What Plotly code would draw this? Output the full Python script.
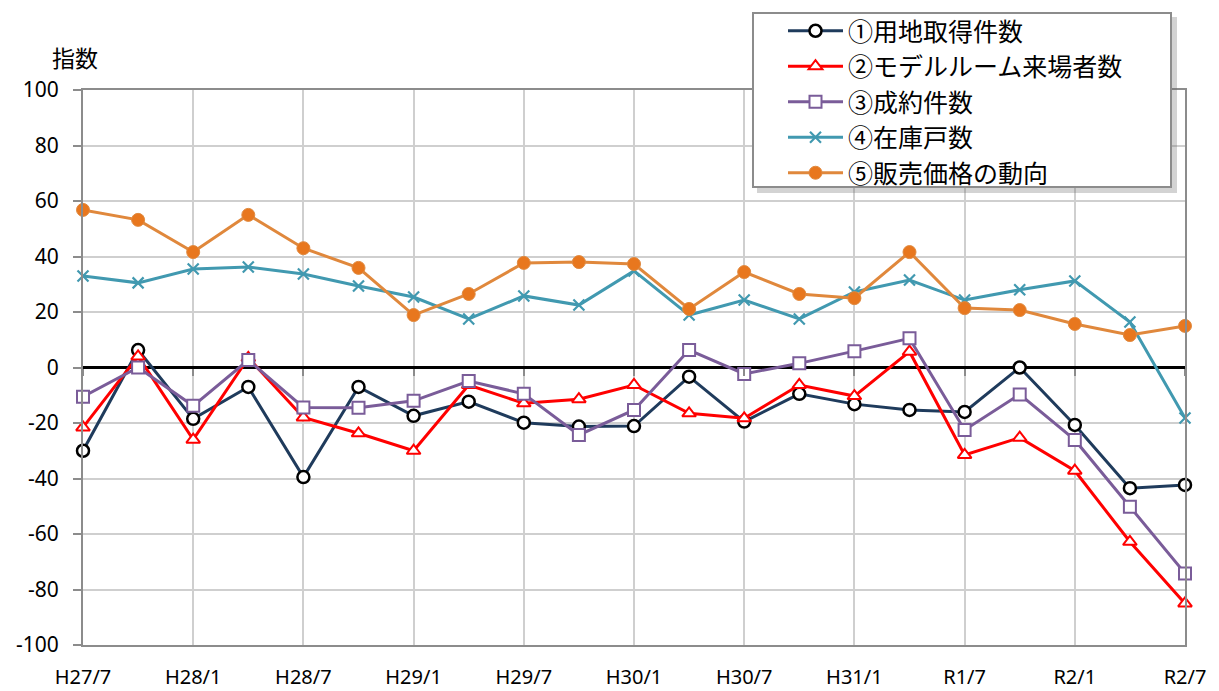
import plotly.graph_objects as go

categories = ["H27/7", "H27/10", "H28/1", "H28/4", "H28/7", "H28/10", "H29/1", "H29/4",
              "H29/7", "H29/10", "H30/1", "H30/4", "H30/7", "H30/10", "H31/1", "H31/4",
              "R1/7", "R1/10", "R2/1", "R2/4", "R2/7"]
tick_labels = ["H27/7", "H28/1", "H28/7", "H29/1", "H29/7", "H30/1", "H30/7", "H31/1",
               "R1/7", "R2/1", "R2/7"]
y_tick_vals = [-100, -80, -60, -40, -20, 0, 20, 40, 60, 80, 100]
y_tick_text = ["-100", "-80", "-60", "-40", "-20", "0", "20", "40", "60", "80", "100"]

s1_land = [-30, 6.3, -18.5, -7, -39.5, -7, -17.4, -12.3, -19.9, -21.3, -21.1, -3.3,
           -19.5, -9.5, -13.2, -15.3, -16, 0, -20.7, -43.5, -42.3]
s2_model = [-21.6, 4, -26, 3.5, -18, -23.7, -30, -6.3, -12.9, -11.4, -6.3, -16.5,
            -18.3, -6.3, -10.3, 5.7, -31.5, -25.3, -37.2, -62.8, -85]
s3_contract = [-10.5, 0, -13.8, 2.7, -14.4, -14.5, -12, -4.9, -9.5, -24.3, -15.3, 6.3,
               -2.3, 1.5, 5.9, 10.5, -22.5, -9.7, -26.1, -50.2, -74.2]
s4_stock = [33, 30.5, 35.5, 36.2, 33.7, 29.4, 25.4, 17.5, 25.8, 22.5, 34.8, 18.9,
            24.3, 17.5, 27.2, 31.5, 24.3, 28, 31.2, 16.4, -18.2]
s5_price = [56.8, 53.2, 41.6, 55, 43, 35.9, 18.9, 26.5, 37.7, 38, 37.3, 21.1,
            34.4, 26.5, 25, 41.6, 21.4, 20.7, 15.7, 11.7, 15]

names = ["①用地取得件数", "②モデルルーム来場者数", "③成約件数", "④在庫戸数", "⑤販売価格の動向"]

fig = go.Figure()
fig.add_trace(go.Scatter(x=categories, y=s1_land, name=names[0], mode="lines+markers",
                         line=dict(color="#1F3B5C", width=3),
                         marker=dict(symbol="circle", size=12, color="white",
                                     line=dict(color="black", width=2.5)),
                         cliponaxis=False, legendgroup="g1"))
fig.add_trace(go.Scatter(x=categories, y=s2_model, name=names[1], mode="lines+markers",
                         line=dict(color="#FF0000", width=3),
                         marker=dict(symbol="triangle-up", size=12, color="white",
                                     line=dict(color="#FF0000", width=2)),
                         cliponaxis=False, legendgroup="g2"))
fig.add_trace(go.Scatter(x=categories, y=s3_contract, name=names[2], mode="lines+markers",
                         line=dict(color="#7A5C99", width=3),
                         marker=dict(symbol="square", size=12, color="white",
                                     line=dict(color="#7A5C99", width=2)),
                         cliponaxis=False, legendgroup="g3"))
fig.add_trace(go.Scatter(x=categories, y=s4_stock, name=names[3], mode="lines+markers",
                         line=dict(color="#4199B0", width=3),
                         marker=dict(symbol="x-thin", size=11, color="#4199B0",
                                     line=dict(color="#4199B0", width=2.2)),
                         cliponaxis=False, legendgroup="g4"))
fig.add_trace(go.Scatter(x=categories, y=s5_price, name=names[4], mode="lines+markers",
                         line=dict(color="#E0883C", width=3),
                         marker=dict(symbol="circle", size=13, color="#E8771E",
                                     line=dict(color="#E08A40", width=1)),
                         cliponaxis=False, legendgroup="g5"))

# page has an 8px body margin: figure pixel = page pixel - 8
OFF = 8
W, H = 1219 - OFF, 691 - OFF
PL, PR, PT, PB = 83, 1185, 90, 645  # plot area in page pixels
L, T = PL - OFF, PT - OFF
R, B = W - (PR - OFF), H - (PB - OFF)
pw, ph = PR - PL, PB - PT

def px(xp):
    return (xp - PL) / pw

def py(yp):
    return (PB - yp) / ph

fig.update_layout(
    width=W, height=H,
    margin=dict(l=L, r=R, t=T, b=B, autoexpand=False),
    paper_bgcolor="white", plot_bgcolor="white",
    font=dict(family="Noto Sans, Noto Sans CJK JP", size=21, color="black"),
    showlegend=True,
    legend=dict(x=px(783), y=py(8), xanchor="left", yanchor="top",
                bgcolor="rgba(0,0,0,0)", borderwidth=0,
                font=dict(family="Noto Sans CJK JP", size=25, color="black"),
                itemwidth=55, tracegroupgap=0, traceorder="normal"),
    xaxis=dict(type="category", categoryorder="array", categoryarray=categories,
               range=[0, len(categories) - 1], automargin=False,
               tickmode="array", tickvals=tick_labels, ticktext=tick_labels,
               showgrid=True, gridcolor="#CFCFCF", gridwidth=1.5,
               showline=True, linecolor="#8C8C8C", linewidth=2, mirror=True,
               ticks="", zeroline=False, ticklabelstandoff=13,
               tickfont=dict(family="Noto Sans", size=20)),
    xaxis2=dict(type="category", categoryorder="array", categoryarray=categories,
                range=[0, len(categories) - 1], overlaying="x", anchor="free",
                position=0.5, side="bottom", automargin=False,
                tickmode="array", tickvals=tick_labels, showticklabels=False,
                ticks="outside", ticklen=7, tickwidth=1.5, tickcolor="#8C8C8C",
                showgrid=False, showline=False, zeroline=False),
    yaxis=dict(range=[-100, 100], automargin=False,
               tickmode="array", tickvals=y_tick_vals, ticktext=y_tick_text,
               showgrid=True, gridcolor="#CFCFCF", gridwidth=1.5,
               showline=True, linecolor="#8C8C8C", linewidth=2, mirror=True,
               ticks="outside", ticklen=8, tickwidth=1.5, tickcolor="#8C8C8C",
               ticklabelstandoff=10,
               zeroline=True, zerolinecolor="black", zerolinewidth=3,
               tickfont=dict(family="Noto Sans", size=21)),
    annotations=[dict(text="指数", x=px(75), y=py(57), xref="paper", yref="paper",
                      xanchor="center", yanchor="middle", showarrow=False,
                      font=dict(family="Noto Sans CJK JP", size=23, color="black"))],
    shapes=[
        dict(type="rect", xref="paper", yref="paper",
             x0=px(757), x1=px(1177), y0=py(193), y1=py(17),
             fillcolor="rgba(110,110,110,0.30)", line=dict(width=0), layer="above"),
        dict(type="rect", xref="paper", yref="paper",
             x0=px(753), x1=px(1171), y0=py(187), y1=py(13),
             fillcolor="white", line=dict(color="#8C8C8C", width=2), layer="above"),
    ],
)
# invisible helper trace so the zero-crossing tick axis is drawn
fig.add_trace(go.Scatter(x=categories, y=[None] * len(categories), xaxis="x2",
                         showlegend=False, hoverinfo="skip", mode="lines"))

fig.write_html("out.html")
